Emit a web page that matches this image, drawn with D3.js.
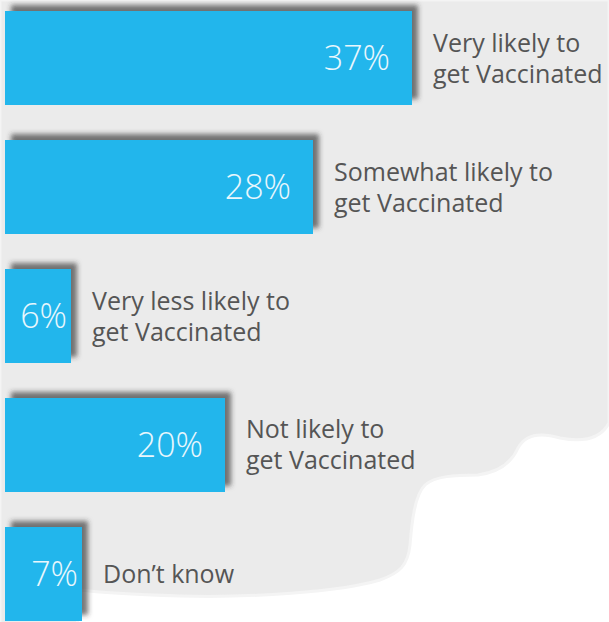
<!DOCTYPE html>
<html>
<head>
<meta charset="utf-8">
<script src="https://cdn.jsdelivr.net/npm/d3@7"></script>
<style>
    html, body { margin: 0; padding: 0; background: #ffffff; }
    #chart { width: 609px; height: 622px; }
</style>
</head>
<body>
<div id="chart"></div>
<script>
// chart data
let categories = ["Very likely", "Somewhat likely", "Very less likely", "Not likely", "Don't know"];
let values = [37, 28, 6, 20, 7];
let labelLines = [
    ["Very likely to", "get Vaccinated"],
    ["Somewhat likely to", "get Vaccinated"],
    ["Very less likely to", "get Vaccinated"],
    ["Not likely to", "get Vaccinated"],
    ["Don\u2019t know"]
];

let width = 609, height = 622;
let barLeft = 5;

let svg = d3.select("#chart")
    .append("svg")
    .attr("width", width)
    .attr("height", height);

// bar shadow towards top-right
let defs = svg.append("defs");
let filter = defs.append("filter")
    .attr("id", "shadow")
    .attr("x", "-20%").attr("y", "-30%")
    .attr("width", "140%").attr("height", "160%");
filter.append("feDropShadow")
    .attr("dx", 6).attr("dy", -6)
    .attr("stdDeviation", 2.5)
    .attr("flood-color", "#333")
    .attr("flood-opacity", 0.65);

// torn paper style background
svg.append("path")
    .attr("d", "M0,0 H609 V423 C600,440 580,442 560,438 C540,432 525,435 518,448 " +
        "C512,462 500,472 478,475 C455,475 435,476 425,485 C415,495 412,520 410,545 " +
        "C408,565 400,573 380,580 C340,592 250,598 180,596 C120,594 95,592 80,590 " +
        "C72,598 76,612 78,624 H0 Z")
    .attr("fill", "#ebebeb")
    .attr("stroke", "#f4f4f4")
    .attr("stroke-width", 3);

let x = d3.scaleLinear()
    .domain([0, 37])
    .range([0, 407]);

let y = d3.scaleBand()
    .domain(categories)
    .range([11, 621])
    .paddingInner(0.2713)
    .paddingOuter(0);

let rows = svg.selectAll("g.row")
    .data(categories)
    .enter()
    .append("g")
    .attr("class", "row");

rows.append("rect")
    .attr("x", barLeft)
    .attr("y", d => y(d))
    .attr("width", (d, i) => x(values[i]))
    .attr("height", y.bandwidth())
    .attr("fill", "#23b6ec")
    .attr("filter", "url(#shadow)");

// value labels inside the bars
rows.append("text")
    .attr("x", (d, i) => barLeft + x(values[i]) - (values[i] > 10 ? 22 : 4))
    .attr("y", d => y(d) + y.bandwidth() / 2 + 12)
    .attr("text-anchor", "end")
    .attr("font-family", "'Open Sans', 'Noto Sans', sans-serif")
    .attr("font-weight", 300)
    .attr("font-size", 34)
    .attr("fill", "#e9f7fd")
    .text((d, i) => values[i] + "%");

// category labels right of the bars
let lineHeight = 31;
rows.append("text")
    .attr("font-family", "'Open Sans', 'Noto Sans', sans-serif")
    .attr("font-size", 25)
    .attr("fill", "#555555")
    .each(function (d, i) {
        let lines = labelLines[i];
        let cy = y(d) + y.bandwidth() / 2;
        let first = cy + 9 - (lines.length - 1) * lineHeight / 2;
        d3.select(this).selectAll("tspan")
            .data(lines)
            .enter()
            .append("tspan")
            .attr("x", barLeft + x(values[i]) + 21)
            .attr("y", (l, j) => first + j * lineHeight)
            .text(l => l);
    });
</script>
</body>
</html>
